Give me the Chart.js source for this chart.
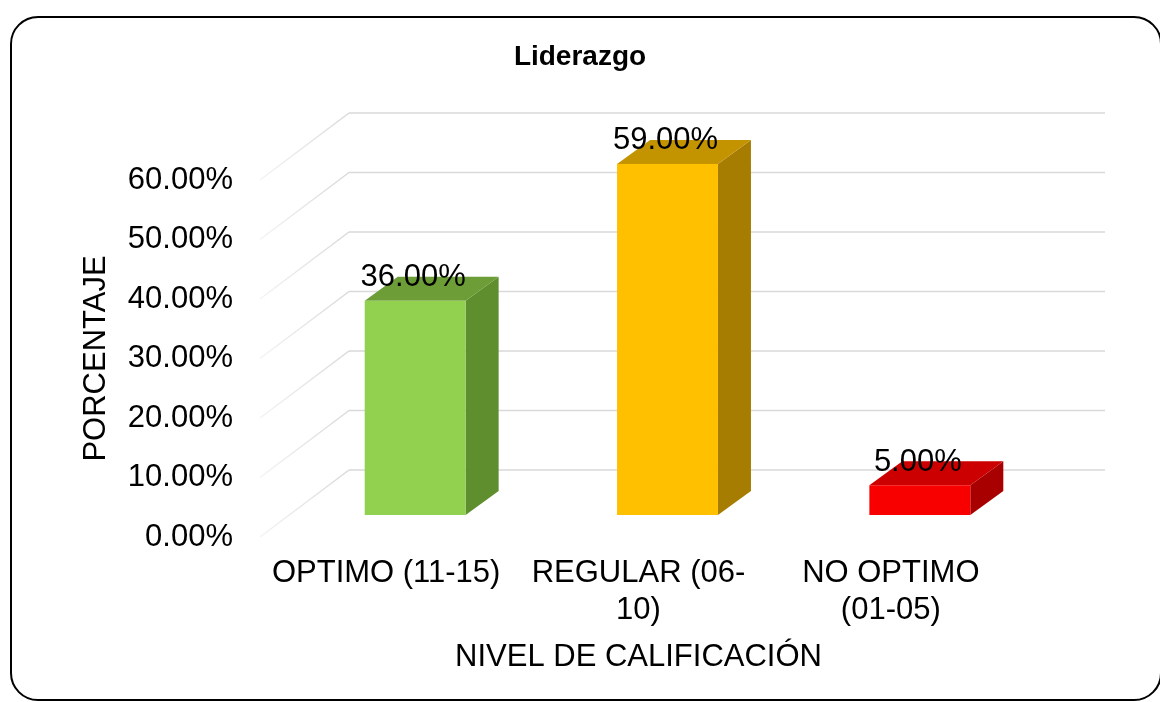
<!DOCTYPE html>
<html>
<head>
<meta charset="utf-8">
<title>Liderazgo</title>
<script src="https://cdn.jsdelivr.net/npm/chart.js@4.4.0/dist/chart.umd.min.js"></script>
<style>
    html, body { margin: 0; padding: 0; background: #fff; }
    #wrap { position: relative; width: 1160px; height: 702px; overflow: hidden; }
    #frame { position: absolute; left: 10px; top: 16px; width: 1152px; height: 685px;
             border: 2px solid #000; border-radius: 28px; box-sizing: border-box; }
    #liderazgo-chart { position: absolute; left: 0; top: 0; }
</style>
</head>
<body>
<div id="wrap">
    <div id="frame"></div>
    <canvas id="liderazgo-chart" width="1160" height="702"></canvas>
</div>
<script>
// Chart data
const chartTitle = 'Liderazgo';
const categories = [['OPTIMO (11-15)'], ['REGULAR (06-', '10)'], ['NO OPTIMO', '(01-05)']];
const percentages = [36, 59, 5];
const yMax = 60;
const yStep = 10;
const xTitle = 'NIVEL DE CALIFICACIÓN';
const yTitle = 'PORCENTAJE';

// face colours per bar: front, side, top
const frontColors = ['#92D050', '#FFC000', '#F80000'];
const sideColors = ['#5E8E2E', '#A67D00', '#A80000'];
const topColors = ['#6C9D36', '#C49300', '#CC0000'];

const FONT = '"Liberation Sans", Arial, sans-serif';
const GRID = '#D9D9D9';

// fake 3D: wall depth and where the bars sit inside it
const wall = { dx: 89, dy: -67 };
const bar = { shiftX: 29, shiftY: -22, dx: 33, dy: -24 };

function pct(v) {
    return v.toFixed(2) + '%';
}

const depth3d = {
    id: 'depth3d',
    beforeDatasetsDraw(chart) {
        const { ctx, chartArea, scales: { y } } = chart;
        ctx.save();
        ctx.lineWidth = 1.5;
        y.ticks.forEach(t => {
            const py = y.getPixelForValue(t.value);
            const x0 = chartArea.left, x1 = chartArea.left + wall.dx, py1 = py + wall.dy;
            // side wall line, fading to the front
            const g = ctx.createLinearGradient(x0, py, x1, py1);
            g.addColorStop(0, 'rgba(217,217,217,0.3)');
            g.addColorStop(1, GRID);
            ctx.strokeStyle = g;
            ctx.beginPath();
            ctx.moveTo(x0, py);
            ctx.lineTo(x1, py1);
            ctx.stroke();
            // back wall line
            ctx.strokeStyle = GRID;
            ctx.beginPath();
            ctx.moveTo(x1, py1);
            ctx.lineTo(chartArea.right + wall.dx - 1, py1);
            ctx.stroke();
        });
        ctx.restore();
    },
    beforeDatasetDraw() {
        // flat bars are replaced by the boxes below
        return false;
    },
    afterDatasetsDraw(chart) {
        const { ctx } = chart;
        const meta = chart.getDatasetMeta(0);
        ctx.save();
        meta.data.forEach((el, i) => {
            const l = el.x - el.width / 2 + bar.shiftX;
            const r = el.x + el.width / 2 + bar.shiftX;
            const t = el.y + bar.shiftY;
            const b = el.base + bar.shiftY;

            // side face
            ctx.fillStyle = sideColors[i];
            ctx.beginPath();
            ctx.moveTo(r, t);
            ctx.lineTo(r + bar.dx, t + bar.dy);
            ctx.lineTo(r + bar.dx, b + bar.dy);
            ctx.lineTo(r, b);
            ctx.closePath();
            ctx.fill();

            // top face
            ctx.fillStyle = topColors[i];
            ctx.beginPath();
            ctx.moveTo(l, t);
            ctx.lineTo(r, t);
            ctx.lineTo(r + bar.dx, t + bar.dy);
            ctx.lineTo(l + bar.dx, t + bar.dy);
            ctx.closePath();
            ctx.fill();

            // front face
            ctx.fillStyle = frontColors[i];
            ctx.fillRect(l, t, r - l, b - t);

            // value label
            ctx.fillStyle = '#000';
            ctx.font = '31px ' + FONT;
            ctx.textAlign = 'center';
            ctx.textBaseline = 'middle';
            ctx.fillText(pct(percentages[i]), el.x + bar.shiftX - 2, t + bar.dy + 1);
        });
        ctx.restore();
    },
    afterDraw(chart) {
        const { ctx } = chart;
        ctx.save();
        ctx.fillStyle = '#000';
        ctx.font = 'bold 28px ' + FONT;
        ctx.textAlign = 'center';
        ctx.textBaseline = 'middle';
        ctx.fillText(chartTitle, chart.width / 2, 57);
        ctx.restore();
    }
};

new Chart(document.getElementById('liderazgo-chart'), {
    type: 'bar',
    data: {
        labels: categories,
        datasets: [{
            data: percentages,
            backgroundColor: frontColors,
            categoryPercentage: 1,
            barPercentage: 0.4
        }]
    },
    options: {
        responsive: false,
        animation: false,
        events: [],
        layout: { padding: { top: 180, right: 143, bottom: 0, left: 0 } },
        plugins: {
            legend: { display: false },
            tooltip: { enabled: false },
            title: { display: false }
        },
        scales: {
            x: {
                grid: { display: false, drawTicks: false },
                border: { display: false },
                ticks: {
                    color: '#000',
                    font: { family: FONT, size: 31 },
                    padding: 18,
                    maxRotation: 0,
                    autoSkip: false
                },
                title: {
                    display: true,
                    text: xTitle,
                    color: '#000',
                    font: { family: FONT, size: 31 },
                    padding: { top: 0, bottom: 26 }
                },
                afterFit: s => { s.height = 165; }
            },
            y: {
                min: 0,
                max: yMax,
                grid: { display: false, drawTicks: false },
                border: { display: false },
                ticks: {
                    stepSize: yStep,
                    color: '#000',
                    font: { family: FONT, size: 31 },
                    padding: 27,
                    callback: v => pct(v)
                },
                title: {
                    display: true,
                    text: yTitle,
                    color: '#000',
                    font: { family: FONT, size: 31 },
                    padding: { top: 78, bottom: 0 }
                },
                afterFit: s => { s.width = 260; }
            }
        }
    },
    plugins: [depth3d]
});
</script>
</body>
</html>
